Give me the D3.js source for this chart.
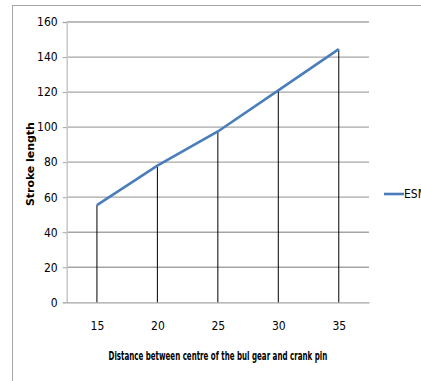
<!DOCTYPE html>
<html><head><meta charset="utf-8">
<script src="https://cdn.jsdelivr.net/npm/d3@7"></script>
<style>
body{margin:0;background:#fff;}
text{font-family:"Liberation Sans Narrow","DejaVu Sans Condensed","DejaVu Sans",sans-serif;font-stretch:condensed;}
</style></head>
<body><svg id="c" width="421" height="381"></svg>
<script>
const categories = ["15","20","25","30","35"];
const esm = [55.5, 78, 97.5, 121, 144.5];
const yTicks = [0,20,40,60,80,100,120,140,160];
const seriesName = "ESM";

const svg = d3.select("#c");
const FONT = "'Liberation Sans Narrow','DejaVu Sans Condensed','DejaVu Sans',sans-serif";
// chart frame
svg.append("rect").attr("x",12.5).attr("y",5.5).attr("width",420).attr("height",380)
  .attr("fill","none").attr("stroke","#a6a6a6").attr("stroke-width",1);

const L=66.7, R=369, T=22, B=302.3;
const x = d3.scalePoint().domain(categories).range([L,R]).padding(0.5);
const y = d3.scaleLinear().domain([0,160]).range([B,T]);

// gridlines
svg.append("g").selectAll("line").data(yTicks.filter(d=>d>0)).join("line")
  .attr("x1",L).attr("x2",R).attr("y1",d=>y(d)).attr("y2",d=>y(d))
  .attr("stroke","#a6a6a6").attr("stroke-width",1.3);

// y axis
const ya = svg.append("g").attr("transform",`translate(${L},0)`)
  .call(d3.axisLeft(y).tickValues(yTicks).tickSize(4).tickPadding(5));
ya.select(".domain").attr("stroke","#c8c8c8").attr("stroke-width",1.5);
ya.selectAll(".tick line").attr("stroke","#a6a6a6");
ya.selectAll("text").attr("font-size",12).attr("fill","#000")
  .style("font-family",FONT).style("font-stretch","condensed");

// x axis
const xa = svg.append("g").attr("transform",`translate(0,${B})`)
  .call(d3.axisBottom(x).tickSize(0).tickPadding(19));
xa.select(".domain").attr("stroke","#a6a6a6").attr("stroke-width",1.3);
xa.selectAll("text").attr("font-size",12).attr("fill","#000")
  .style("font-family",FONT).style("font-stretch","condensed");

// drop lines
svg.append("g").selectAll("line").data(esm).join("line")
  .attr("x1",(d,i)=>x(categories[i])).attr("x2",(d,i)=>x(categories[i]))
  .attr("y1",d=>y(d)).attr("y2",y(0))
  .attr("stroke","#000").attr("stroke-width",1);

// series line
svg.append("path").datum(esm)
  .attr("d", d3.line().x((d,i)=>x(categories[i])).y(d=>y(d)))
  .attr("fill","none").attr("stroke","#4a7ebb").attr("stroke-width",2.6);

// axis titles (fit to reference widths via horizontal scale)
function fitText(sel, target){
  const w = sel.node().getComputedTextLength();
  return w > 0 ? target / w : 1;
}
const yt = svg.append("text").attr("text-anchor","middle").attr("font-size",11).attr("font-weight","bold")
  .style("font-family","'DejaVu Sans',sans-serif").style("font-stretch","normal")
  .text("Stroke length");
const sy = fitText(yt, 84);
yt.attr("transform",`translate(34,${(T+B)/2+2}) rotate(-90) scale(${sy},1)`);

const xt = svg.append("text").attr("text-anchor","middle").attr("font-size",12).attr("font-weight","bold")
  .text("Distance between centre of the bul gear and crank pin");
const sx = fitText(xt, 219);
xt.attr("transform",`translate(${(L+R)/2},360) scale(${sx},1)`);

// legend
svg.append("line").attr("x1",384).attr("x2",404).attr("y1",194).attr("y2",194)
  .attr("stroke","#4a7ebb").attr("stroke-width",2.6);
svg.append("text").attr("x",404).attr("y",198).attr("font-size",12).text(seriesName);
</script></body></html>
